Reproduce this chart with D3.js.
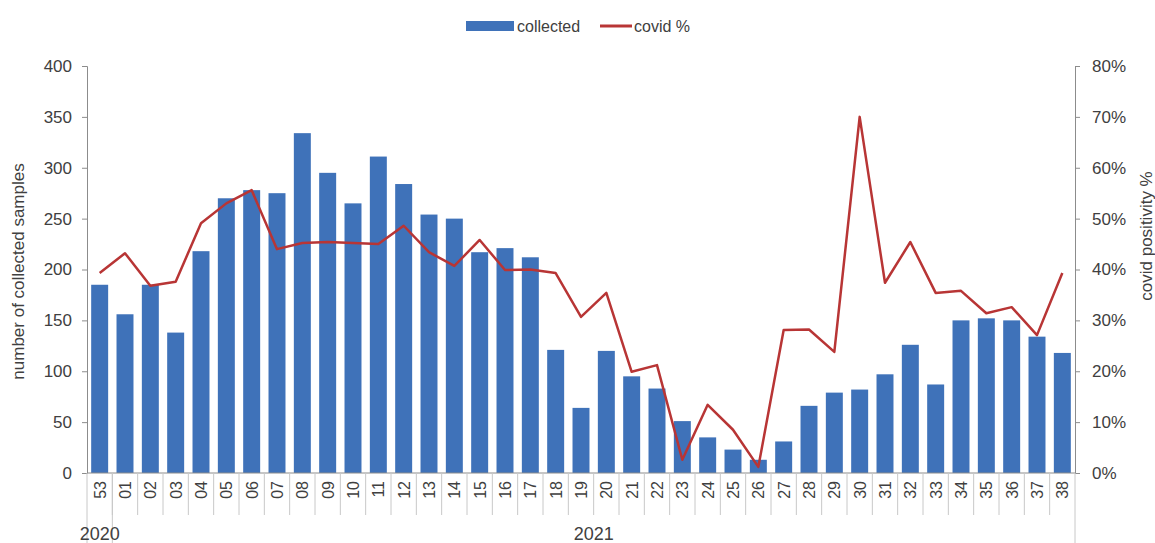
<!DOCTYPE html>
<html>
<head>
<meta charset="utf-8">
<script src="https://cdn.jsdelivr.net/npm/d3@7"></script>
<style>
  body { margin: 0; background: #fff; }
  svg text { font-family: "Liberation Sans", Arial, sans-serif; fill: #404040; }
</style>
</head>
<body>
<div id="chart"></div>
<script>
const weeks = ['53', '01', '02', '03', '04', '05', '06', '07', '08', '09', '10', '11', '12', '13',
    '14', '15', '16', '17', '18', '19', '20', '21', '22', '23', '24', '25', '26', '27', '28', '29',
    '30', '31', '32', '33', '34', '35', '36', '37', '38'];
const years = [{ label: '2020', from: '53', to: '53' }, { label: '2021', from: '01', to: '38' }];
const collected = [185, 156, 185, 138, 218, 270, 278, 275, 334, 295, 265, 311, 284, 254,
    250, 217, 221, 212, 121, 64, 120, 95, 83, 51, 35, 23, 13, 31, 66, 79,
    82, 97, 126, 87, 150, 152, 150, 134, 118];
const covidPct = [39.3, 43.2, 36.8, 37.6, 49.1, 53.0, 55.6, 44.0, 45.2, 45.4, 45.2, 45.0, 48.6, 43.4,
    40.7, 45.8, 39.9, 40.0, 39.3, 30.7, 35.4, 19.9, 21.2, 2.6, 13.4, 8.5, 1.2, 28.1, 28.2, 23.8,
    70.0, 37.4, 45.4, 35.4, 35.8, 31.4, 32.6, 27.1, 39.3];
const leftTicks = [0, 50, 100, 150, 200, 250, 300, 350, 400];
const rightTicks = [0, 10, 20, 30, 40, 50, 60, 70, 80];

const W = 1155, H = 543;
const margin = { top: 66, right: 80, bottom: 70, left: 87 };
const BLUE = '#3f72b9', RED = '#b83535', AXIS = '#8c8c8c';

const svg = d3.select('#chart').append('svg').attr('width', W).attr('height', H);

const pad = 0.33;
const x = d3.scaleBand().domain(weeks)
    .range([margin.left, W - margin.right])
    .paddingInner(pad).paddingOuter(pad / 2);
const yL = d3.scaleLinear().domain([0, 400]).range([H - margin.bottom, margin.top]);
const yR = d3.scaleLinear().domain([0, 80]).range([H - margin.bottom, margin.top]);
const bottom = H - margin.bottom;
const edge = w => x(w) - x.step() * pad / 2;

// bars
svg.append('g').selectAll('rect').data(weeks).join('rect')
    .attr('x', d => x(d))
    .attr('width', x.bandwidth())
    .attr('y', (d, i) => yL(collected[i]))
    .attr('height', (d, i) => bottom - yL(collected[i]))
    .attr('fill', BLUE);

// axes
const left = svg.append('g').attr('transform', `translate(${margin.left},0)`)
    .call(d3.axisLeft(yL).tickValues(leftTicks).tickSize(5).tickPadding(10));
const right = svg.append('g').attr('transform', `translate(${W - margin.right},0)`)
    .call(d3.axisRight(yR).tickValues(rightTicks).tickFormat(d => d + '%').tickSize(5).tickPadding(12));
[left, right].forEach(g => {
    g.selectAll('path, line').attr('stroke', AXIS);
    g.selectAll('text').style('font-size', '17px').attr('fill', '#404040');
});

// category axis
svg.append('line')
    .attr('x1', margin.left).attr('x2', W - margin.right)
    .attr('y1', bottom).attr('y2', bottom)
    .attr('stroke', AXIS);
svg.append('g').selectAll('line').data(weeks.slice(1)).join('line')
    .attr('x1', d => edge(d)).attr('x2', d => edge(d))
    .attr('y1', bottom).attr('y2', bottom + 42)
    .attr('stroke', '#c8c8c8');
svg.append('g').selectAll('text').data(weeks).join('text')
    .attr('transform', d => `translate(${x(d) + x.bandwidth() / 2 + 6},${bottom + 8}) rotate(-90)`)
    .attr('text-anchor', 'end')
    .style('font-size', '16px')
    .text(d => d);

// year groups
const yearEdges = [edge(weeks[0]), ...years.map(y => edge(y.to) + x.step())];
svg.append('g').selectAll('line').data(yearEdges).join('line')
    .attr('x1', d => d).attr('x2', d => d)
    .attr('y1', bottom).attr('y2', H)
    .attr('stroke', '#c8c8c8');
svg.append('g').selectAll('text').data(years).join('text')
    .attr('x', d => (edge(d.from) + edge(d.to) + x.step()) / 2)
    .attr('y', H - 3)
    .attr('text-anchor', 'middle')
    .style('font-size', '18px')
    .text(d => d.label);

// line
const line = d3.line()
    .x((d, i) => x(weeks[i]) + x.bandwidth() / 2)
    .y(d => yR(d));
svg.append('path').datum(covidPct)
    .attr('d', line)
    .attr('fill', 'none')
    .attr('stroke', RED)
    .attr('stroke-width', 2.5)
    .attr('stroke-linejoin', 'round');

// axis titles
svg.append('text')
    .attr('transform', `translate(24,${(margin.top + bottom) / 2 + 2}) rotate(-90)`)
    .attr('text-anchor', 'middle')
    .style('font-size', '17px')
    .text('number of collected samples');
svg.append('text')
    .attr('transform', `translate(1152,236) rotate(-90)`)
    .attr('text-anchor', 'middle')
    .style('font-size', '17px')
    .text('covid positivity %');

// legend
const legend = svg.append('g').attr('transform', 'translate(466,26)');
legend.append('rect').attr('x', 0).attr('y', -5).attr('width', 48).attr('height', 10).attr('fill', BLUE);
legend.append('text').attr('x', 51).attr('y', 6).style('font-size', '16px').text('collected');
legend.append('line').attr('x1', 134).attr('x2', 166).attr('y1', 0).attr('y2', 0)
    .attr('stroke', RED).attr('stroke-width', 3);
legend.append('text').attr('x', 168).attr('y', 6).style('font-size', '16px').text('covid %');
</script>
</body>
</html>
